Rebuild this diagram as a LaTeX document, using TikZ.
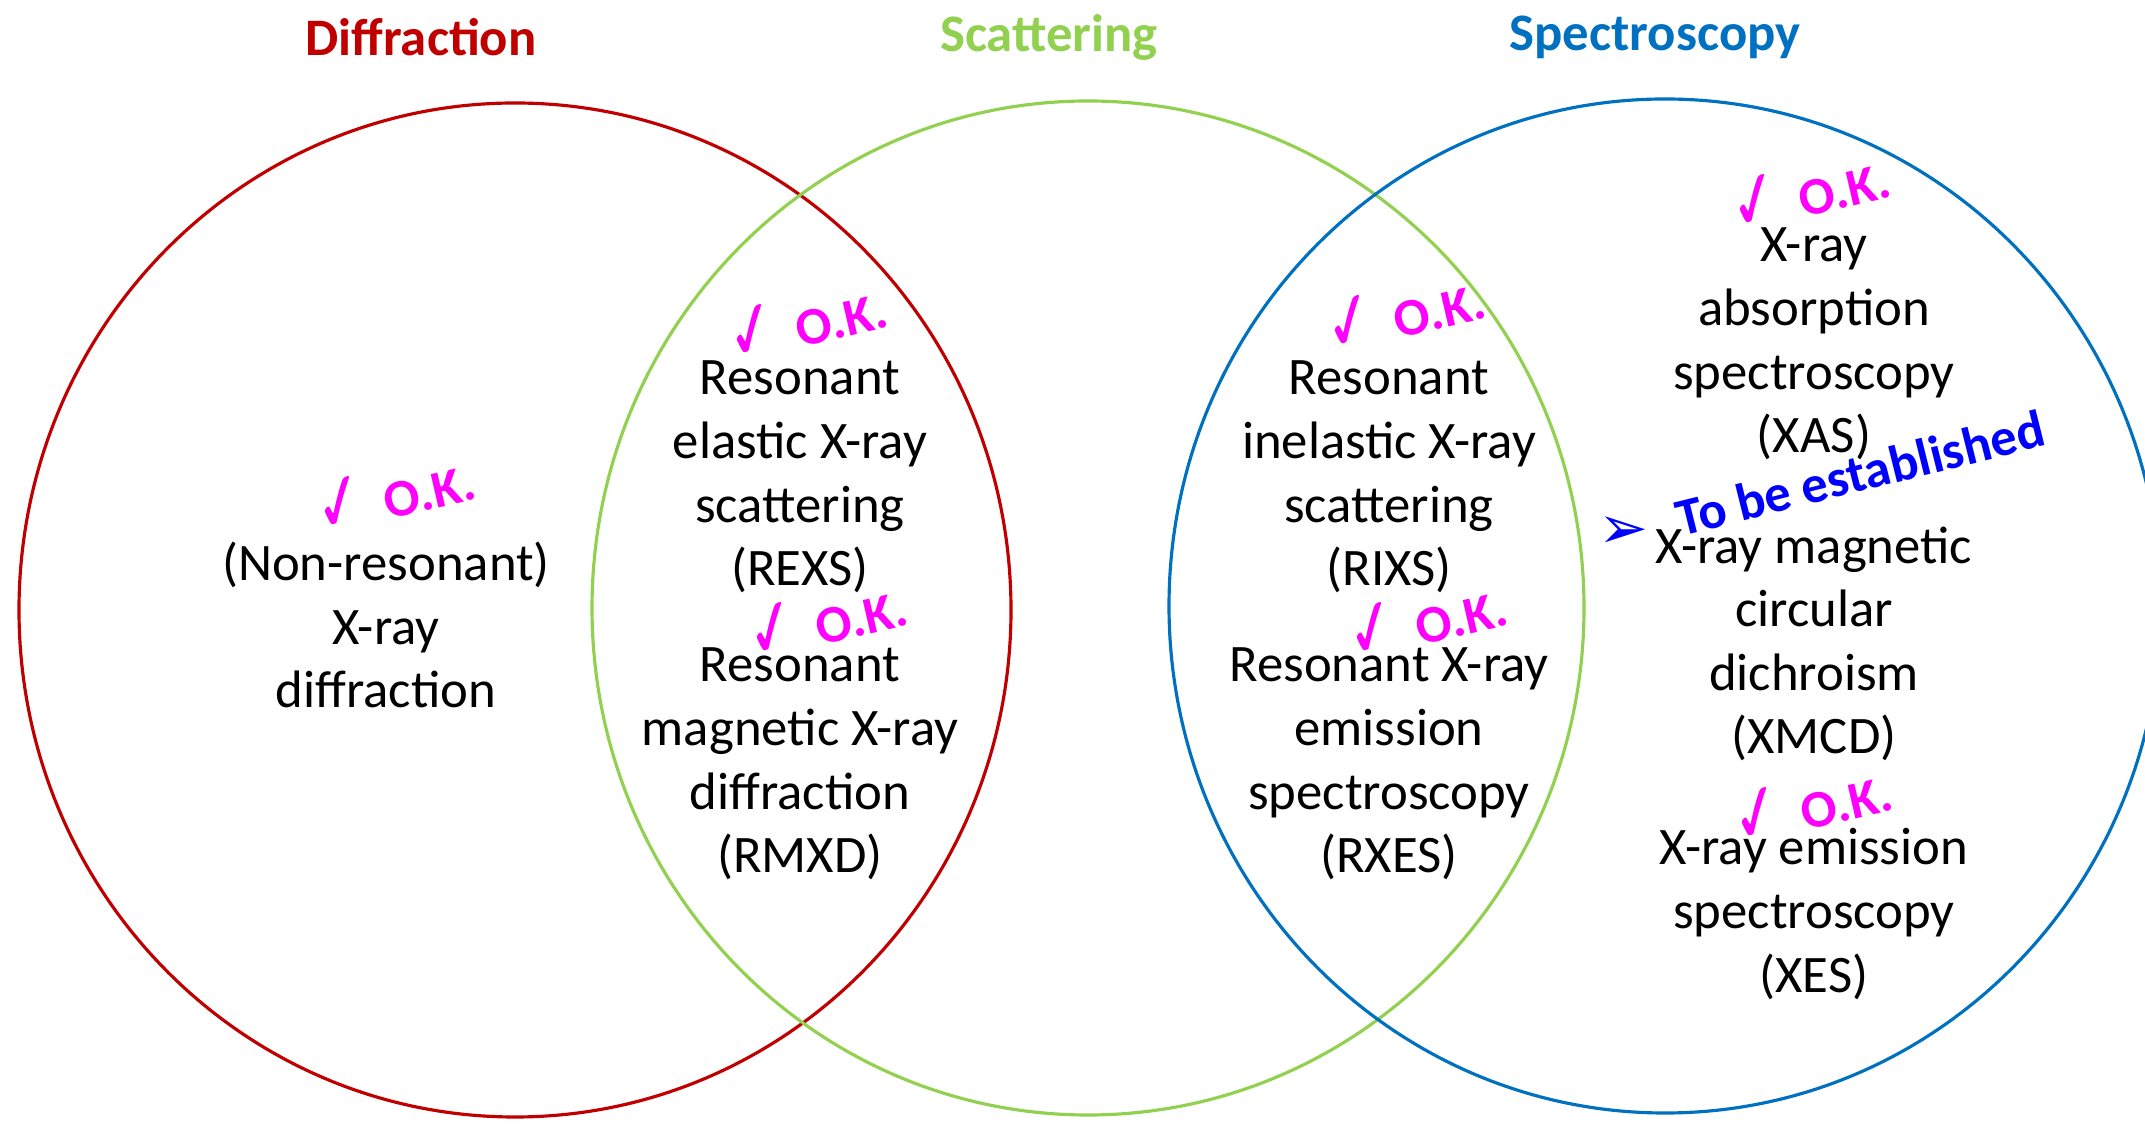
\documentclass[tikz,border=0pt]{standalone}
\usepackage{fontspec}
\usepackage{graphicx}
\usepackage{xcolor}
\setmainfont{Carlito}
\newfontfamily\symfont{DejaVu Sans}
\definecolor{diffred}{HTML}{C00000}
\definecolor{scatgreen}{HTML}{92D050}
\definecolor{specblue}{HTML}{0070C0}
\definecolor{okmagenta}{HTML}{FF00FF}
\definecolor{todoblue}{HTML}{0000FF}
\newcommand{\okcheck}{{\symfont\scalebox{1.15}[1.55]{✓}}}

\begin{document}
\begin{tikzpicture}[
    font=\fontsize{15}{18.1}\selectfont,
    venn/.style={line width=0.9pt},
    title/.style={font=\fontsize{15}{18}\selectfont\bfseries},
    item/.style={align=center, inner sep=0pt},
    okmark/.style={text=okmagenta, font=\fontsize{15}{18}\selectfont\bfseries, rotate=13, inner sep=0pt}
  ]
  \clip (0,0) rectangle (21.45,11.26);
  % the three sets
  \draw[venn, diffred] (5.15,5.16) ellipse [x radius=4.96, y radius=5.07];
  \draw[venn, scatgreen] (10.88,5.18) ellipse [x radius=4.96, y radius=5.07];
  \draw[venn, specblue] (16.65,5.20) ellipse [x radius=4.96, y radius=5.07];

  \node[title, text=diffred] (tdiff) at (4.21,10.89) {Diffraction};
  \node[title, text=scatgreen] (tscat) at (10.49,10.89) {Scattering};
  \node[title, text=specblue] (tspec) at (16.55,10.89) {Spectroscopy};

  % methods
  \node[item] (nonres) at (3.86,5.01) {(Non-resonant)\\X-ray\\diffraction};
  \node[item] (rexs) at (8.00,6.49) {Resonant\\elastic X-ray\\scattering\\(REXS)};
  \node[item] (rmxd) at (8.00,3.62) {Resonant\\magnetic X-ray\\diffraction\\(RMXD)};
  \node[item] (rixs) at (13.89,6.49) {Resonant\\inelastic X-ray\\scattering\\(RIXS)};
  \node[item] (rxes) at (13.89,3.62) {Resonant X-ray\\emission\\spectroscopy\\(RXES)};
  \node[item] (xas) at (18.14,7.82) {X-ray\\absorption\\spectroscopy\\(XAS)};
  \node[item] (xmcd) at (18.14,4.82) {X-ray magnetic\\circular\\dichroism\\(XMCD)};
  \node[item] (xes) at (18.14,2.12) {X-ray emission\\spectroscopy\\(XES)};

  % status marks
  \node[okmark] (ok1) at (3.94,6.34) {\okcheck\hspace{0.35em}O.K.};
  \node[okmark] (ok2) at (8.06,8.06) {\okcheck\hspace{0.35em}O.K.};
  \node[okmark] (ok3) at (8.26,5.08) {\okcheck\hspace{0.35em}O.K.};
  \node[okmark] (ok4) at (14.04,8.15) {\okcheck\hspace{0.35em}O.K.};
  \node[okmark] (ok5) at (14.26,5.08) {\okcheck\hspace{0.35em}O.K.};
  \node[okmark] (ok6) at (18.09,9.36) {\okcheck\hspace{0.35em}O.K.};
  \node[okmark] (ok7) at (18.11,3.23) {\okcheck\hspace{0.35em}O.K.};

  \node[text=todoblue, inner sep=0pt, font=\fontsize{15}{18}\selectfont\bfseries, rotate=14] (todo) at (18.60,6.53) {To be established};
  \node[text=todoblue, inner sep=0pt, font=\symfont\fontsize{17}{20}\selectfont] (bullet) at (16.24,5.93) {➢};
\end{tikzpicture}
\end{document}
